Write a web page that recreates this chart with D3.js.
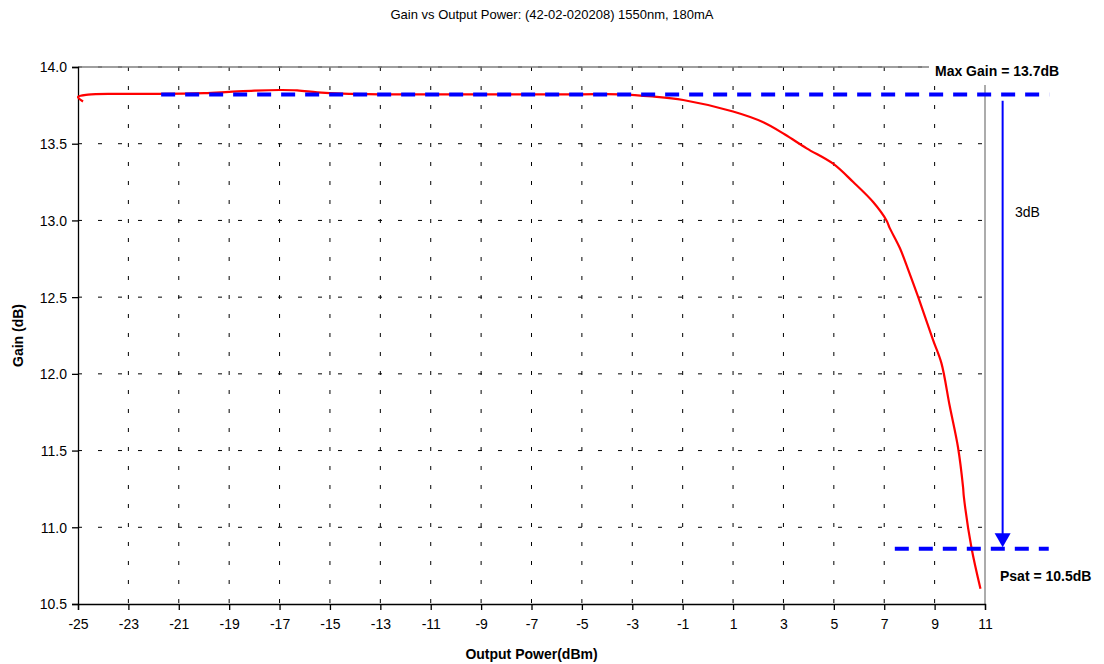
<!DOCTYPE html>
<html>
<head>
<meta charset="utf-8">
<script src="https://cdn.jsdelivr.net/npm/d3@7"></script>
<style>
  body { margin: 0; background: #fff; }
  svg { font-family: "Liberation Sans", Arial, sans-serif; }
</style>
</head>
<body>
<svg id="chart" width="1104" height="664"></svg>
<script>
// measured gain curve (output power dBm, gain dB)
const powerDbm = [-24.8, -25.0, -24.6, -23.5, -22, -20, -19, -18, -17, -16.3, -15.5, -14.5, -13, -11, -9, -7, -5,
  -3.5, -2.2, -0.98, 1.0, 2.2, 3.06, 3.92, 4.97, 5.77, 6.56, 7.09, 7.22, 7.62, 7.95, 8.35, 8.94, 9.27,
  9.6, 9.93, 10.13, 10.16, 10.46, 10.82];
const gainDb = [13.775, 13.805, 13.82, 13.825, 13.825, 13.83, 13.838, 13.846, 13.85, 13.848, 13.835, 13.826, 13.822, 13.822, 13.822, 13.822, 13.822,
  13.822, 13.808, 13.785, 13.71, 13.64, 13.56, 13.47, 13.37, 13.25, 13.12, 13.0, 12.95, 12.82, 12.68, 12.5, 12.22, 12.07,
  11.79, 11.52, 11.26, 11.2, 10.87, 10.6];

const xTicks = d3.range(-25, 12, 2);
const yTicks = d3.range(10.5, 14.01, 0.5);

// annotation values
const maxGainLine = { gain: 13.82, from: -21.7, to: 13.55, label: "Max Gain = 13.7dB" };
const psatLine = { gain: 10.86, from: 7.42, to: 13.53, label: "Psat = 10.5dB" };
const dropArrow = { x: 11.7, from: 13.78, to: 10.87, label: "3dB" };

const svg = d3.select("#chart");
const plotL = 78, plotR = 985, plotT = 67, plotB = 604;

const x = d3.scaleLinear().domain([-25, 11]).range([plotL, plotR]);
const y = d3.scaleLinear().domain([10.5, 14.0]).range([plotB, plotT]);

// title
svg.append("text")
  .attr("x", 552).attr("y", 19)
  .attr("text-anchor", "middle")
  .attr("font-size", 13)
  .text("Gain vs Output Power: (42-02-020208) 1550nm, 180mA");

// grid
svg.append("g").selectAll("line")
  .data(xTicks.filter(d => d > -25 && d < 11))
  .enter().append("line")
  .attr("x1", d => x(d)).attr("x2", d => x(d))
  .attr("y1", plotT).attr("y2", plotB)
  .attr("stroke", "#000").attr("stroke-width", 1)
  .attr("stroke-dasharray", "4,15");

svg.append("g").selectAll("line")
  .data(yTicks.filter(d => d > 10.5))
  .enter().append("line")
  .attr("x1", plotL).attr("x2", plotR)
  .attr("y1", d => y(d)).attr("y2", d => y(d))
  .attr("stroke", "#000").attr("stroke-width", 1)
  .attr("stroke-dasharray", "4,16");

// top / right border
svg.append("path")
  .attr("d", `M${plotL},${plotT}H${plotR}V${plotB}`)
  .attr("fill", "none").attr("stroke", "#808080").attr("stroke-width", 1.3);

// axes (plain hyphen for negatives, like the original)
const xAxis = svg.append("g")
  .attr("transform", `translate(0,${plotB})`)
  .call(d3.axisBottom(x).tickValues(xTicks).tickSize(6).tickPadding(6).tickFormat(d => String(d)));
const yAxis = svg.append("g")
  .attr("transform", `translate(${plotL},0)`)
  .call(d3.axisLeft(y).tickValues(yTicks).tickSize(6).tickPadding(5).tickFormat(d => d.toFixed(1)));
[xAxis, yAxis].forEach(a => {
  a.select(".domain").attr("stroke", "#000").attr("stroke-width", 1.3);
  a.selectAll(".tick line").attr("stroke", "#000").attr("stroke-width", 1.3);
  a.selectAll("text").attr("font-size", 14).attr("fill", "#000")
    .attr("font-family", "Liberation Sans, Arial, sans-serif");
});
xAxis.selectAll("text").attr("dy", "0.95em");
yAxis.selectAll("text").attr("dy", "0.35em");

// axis titles
svg.append("text")
  .attr("x", x(-7)).attr("y", 659)
  .attr("text-anchor", "middle")
  .attr("font-size", 14).attr("font-weight", "bold")
  .text("Output Power(dBm)");
svg.append("text")
  .attr("transform", `translate(23,${(plotT + plotB) / 2}) rotate(-90)`)
  .attr("text-anchor", "middle")
  .attr("font-size", 14).attr("font-weight", "bold")
  .text("Gain (dB)");

// gain curve
const line = d3.line().x((d, i) => x(powerDbm[i])).y(d => y(d)).curve(d3.curveCatmullRom.alpha(0.5));
svg.append("path")
  .datum(gainDb)
  .attr("d", line)
  .attr("fill", "none").attr("stroke", "#ff0000").attr("stroke-width", 2.2)
  .attr("stroke-linejoin", "round");

// max gain label (white box covers the frame corner)
svg.append("rect")
  .attr("x", 929).attr("y", 56).attr("width", 150).attr("height", 29)
  .attr("fill", "#fff");
svg.append("text")
  .attr("x", 935).attr("y", 76)
  .attr("font-size", 14).attr("font-weight", "bold")
  .text(maxGainLine.label);

// dashed reference lines
[maxGainLine, psatLine].forEach(l => {
  svg.append("line")
    .attr("x1", x(l.from)).attr("x2", x(l.to))
    .attr("y1", y(l.gain)).attr("y2", y(l.gain))
    .attr("stroke", "#0000ff").attr("stroke-width", 4)
    .attr("stroke-dasharray", "14,10");
});

// 3dB arrow
svg.append("line")
  .attr("x1", x(dropArrow.x)).attr("x2", x(dropArrow.x))
  .attr("y1", y(dropArrow.from)).attr("y2", y(dropArrow.to) - 13)
  .attr("stroke", "#0000ff").attr("stroke-width", 2);
const ax = x(dropArrow.x), ay = y(dropArrow.to);
svg.append("path")
  .attr("d", `M${ax - 8},${ay - 14}L${ax + 8},${ay - 14}L${ax},${ay}Z`)
  .attr("fill", "#0000ff");
svg.append("text")
  .attr("x", 1015).attr("y", 217)
  .attr("font-size", 14)
  .text(dropArrow.label);

svg.append("text")
  .attr("x", 1000).attr("y", 581)
  .attr("font-size", 14).attr("font-weight", "bold")
  .text(psatLine.label);
</script>
</body>
</html>
